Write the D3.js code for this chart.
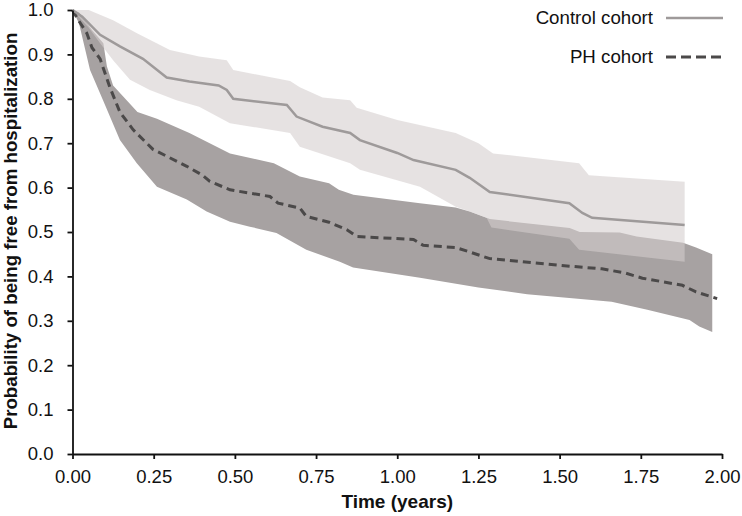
<!DOCTYPE html>
<html>
<head>
<meta charset="utf-8">
<script src="https://cdn.jsdelivr.net/npm/d3@7"></script>
<style>
    html, body { margin: 0; padding: 0; background: #ffffff; }
    svg { display: block; font-family: "Liberation Sans", Arial, sans-serif; }
</style>
</head>
<body>
<div id="chart"></div>
<script>
const width = 742;
const height = 516;
const margin = { top: 10, right: 20, bottom: 62, left: 72.5 };

// Kaplan-Meier estimates: [time (years), probability]
const controlCurve = [
    [0, 1.0], [0.03, 0.985], [0.085, 0.944], [0.146, 0.918], [0.217, 0.89],
    [0.29, 0.848], [0.36, 0.839], [0.45, 0.83], [0.475, 0.82], [0.495, 0.80],
    [0.66, 0.786], [0.69, 0.76], [0.77, 0.737], [0.855, 0.723], [0.885, 0.707],
    [1.0, 0.678], [1.05, 0.662], [1.18, 0.64], [1.223, 0.622], [1.285, 0.59],
    [1.53, 0.565], [1.57, 0.543], [1.6, 0.532], [1.885, 0.516]
];
const controlUpper = [
    [0, 1.0], [0.05, 1.0], [0.125, 0.977], [0.2, 0.947], [0.3, 0.91],
    [0.39, 0.895], [0.475, 0.887], [0.495, 0.865], [0.67, 0.84], [0.7, 0.826],
    [0.77, 0.803], [0.855, 0.797], [0.875, 0.78], [1.0, 0.752], [1.18, 0.723],
    [1.25, 0.70], [1.295, 0.677], [1.56, 0.655], [1.59, 0.628], [1.885, 0.613]
];
const controlLower = [
    [0, 1.0], [0.05, 0.96], [0.085, 0.925], [0.125, 0.887], [0.177, 0.843],
    [0.238, 0.82], [0.32, 0.797], [0.39, 0.782], [0.485, 0.745], [0.67, 0.723],
    [0.7, 0.692], [0.855, 0.655], [0.885, 0.64], [1.07, 0.602], [1.18, 0.557],
    [1.223, 0.546], [1.275, 0.532], [1.29, 0.51], [1.53, 0.485], [1.56, 0.46],
    [1.885, 0.433]
];
const phCurve = [
    [0, 1.0], [0.02, 0.975], [0.044, 0.948], [0.06, 0.915], [0.085, 0.89],
    [0.115, 0.826], [0.146, 0.77], [0.187, 0.73], [0.248, 0.686], [0.352, 0.648],
    [0.40, 0.628], [0.423, 0.614], [0.485, 0.595], [0.608, 0.58], [0.633, 0.565],
    [0.7, 0.554], [0.72, 0.535], [0.79, 0.522], [0.845, 0.505], [0.875, 0.49],
    [1.05, 0.483], [1.08, 0.47], [1.18, 0.465], [1.223, 0.455], [1.285, 0.44],
    [1.5, 0.425], [1.63, 0.417], [1.7, 0.408], [1.755, 0.396], [1.878, 0.38],
    [1.92, 0.365], [1.985, 0.35]
];
const phUpper = [
    [0, 1.0], [0.02, 0.995], [0.06, 0.955], [0.095, 0.925], [0.106, 0.873],
    [0.125, 0.83], [0.2, 0.77], [0.26, 0.755], [0.36, 0.723], [0.485, 0.677],
    [0.62, 0.655], [0.7, 0.625], [0.79, 0.61], [0.82, 0.595], [0.865, 0.584],
    [1.07, 0.565], [1.18, 0.555], [1.223, 0.546], [1.285, 0.529], [1.531, 0.509],
    [1.562, 0.5], [1.685, 0.499], [1.737, 0.49], [1.88, 0.476], [1.92, 0.465],
    [1.97, 0.45]
];
const phLower = [
    [0, 1.0], [0.02, 0.97], [0.054, 0.865], [0.094, 0.797], [0.146, 0.707],
    [0.198, 0.655], [0.26, 0.602], [0.352, 0.573], [0.413, 0.546], [0.485, 0.523],
    [0.546, 0.512], [0.628, 0.498], [0.72, 0.46], [0.823, 0.433], [0.864, 0.42],
    [1.07, 0.397], [1.25, 0.375], [1.4, 0.36], [1.66, 0.343], [1.77, 0.325],
    [1.9, 0.302], [1.93, 0.287], [1.97, 0.275]
];

const xTicks = [0, 0.25, 0.5, 0.75, 1.0, 1.25, 1.5, 1.75, 2.0];
const yTicks = [0, 0.1, 0.2, 0.3, 0.4, 0.5, 0.6, 0.7, 0.8, 0.9, 1.0];
const legendLabels = ["Control cohort", "PH cohort"];

const svg = d3
    .select("#chart")
    .append("svg")
    .attr("width", width)
    .attr("height", height);

const x = d3
    .scaleLinear()
    .domain([0, 2])
    .range([margin.left, width - margin.right]);

const y = d3
    .scaleLinear()
    .domain([0, 1])
    .range([height - margin.bottom, margin.top]);

const line = d3
    .line()
    .x(function (d) { return x(d[0]); })
    .y(function (d) { return y(d[1]); });

// confidence band: upper edge forward, lower edge back
function band(upper, lower) {
    return line(upper.concat([...lower].reverse())) + "Z";
}

svg.append("path")
    .attr("d", band(phUpper, phLower))
    .attr("fill", "#a7a2a2");

svg.append("path")
    .attr("d", band(controlUpper, controlLower))
    .attr("fill", "#d4cdcd")
    .attr("fill-opacity", 0.58);

svg.append("path")
    .attr("d", line(phCurve))
    .attr("fill", "none")
    .attr("stroke", "#4b4949")
    .attr("stroke-width", 3)
    .attr("stroke-dasharray", "8,5");

svg.append("path")
    .attr("d", line(controlCurve))
    .attr("fill", "none")
    .attr("stroke", "#9e9a9a")
    .attr("stroke-width", 2.5);

// axes
const xAxis = svg.append("g")
    .attr("transform", `translate(0,${height - margin.bottom})`)
    .call(
        d3.axisBottom(x)
            .tickValues(xTicks)
            .tickFormat(d3.format(".2f"))
            .tickSize(5)
            .tickSizeOuter(0)
            .tickPadding(11)
    );

const yAxis = svg.append("g")
    .attr("transform", `translate(${margin.left},0)`)
    .call(
        d3.axisLeft(y)
            .tickValues(yTicks)
            .tickFormat(d3.format(".1f"))
            .tickSize(5)
            .tickSizeOuter(0)
            .tickPadding(14)
    );

[xAxis, yAxis].forEach(function (g) {
    g.select(".domain").attr("stroke", "#111").attr("stroke-width", 1.8);
    g.selectAll(".tick line").attr("stroke", "#111").attr("stroke-width", 1.8);
    g.selectAll(".tick text")
        .attr("fill", "#111")
        .style("font-size", "18.5px")
        .style("font-family", "'Liberation Sans', Arial, sans-serif");
});

// axis titles
svg.append("text")
    .attr("x", (margin.left + width - margin.right) / 2)
    .attr("y", 508)
    .attr("text-anchor", "middle")
    .style("font-size", "19px")
    .style("font-weight", "bold")
    .attr("fill", "#111")
    .text("Time (years)");

svg.append("text")
    .attr("transform", "rotate(-90)")
    .attr("x", -231)
    .attr("y", 17)
    .attr("text-anchor", "middle")
    .style("font-size", "18.7px")
    .style("font-weight", "bold")
    .attr("fill", "#111")
    .text("Probability of being free from hospitalization");

// legend
const legend = svg.append("g");
const legendRows = [
    { label: legendLabels[0], y: 18, stroke: "#9e9a9a", width: 2.5, dash: null },
    { label: legendLabels[1], y: 57, stroke: "#4b4949", width: 3, dash: "10,5" }
];

legendRows.forEach(function (row) {
    legend.append("text")
        .attr("x", 653)
        .attr("y", row.y + 6)
        .attr("text-anchor", "end")
        .style("font-size", "18.7px")
        .attr("fill", "#111")
        .text(row.label);

    legend.append("line")
        .attr("x1", 666)
        .attr("x2", 723)
        .attr("y1", row.y)
        .attr("y2", row.y)
        .attr("stroke", row.stroke)
        .attr("stroke-width", row.width)
        .attr("stroke-dasharray", row.dash);
});
</script>
</body>
</html>
